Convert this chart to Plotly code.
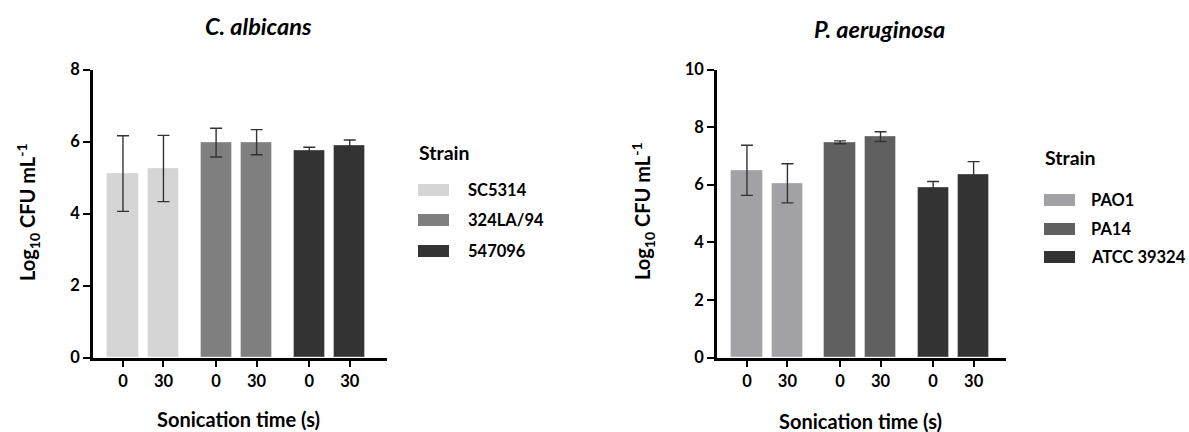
import plotly.graph_objects as go

W, H = 1189, 432

# ---------------- data ----------------
times = ["0", "30"]

ca_title = "C. albicans"
ca_strains = ["SC5314", "324LA/94", "547096"]
ca_colors = ["#d5d5d5", "#7f7f7f", "#333333"]
ca_means = [[5.11, 5.25], [5.97, 5.98], [5.75, 5.90]]
ca_sd = [[1.05, 0.92], [0.40, 0.35], [0.09, 0.14]]

pa_title = "P. aeruginosa"
pa_strains = ["PAO1", "PA14", "ATCC 39324"]
pa_colors = ["#a2a2a6", "#606060", "#333333"]
pa_means = [[6.50, 6.05], [7.47, 7.67], [5.91, 6.37]]
pa_sd = [[0.87, 0.68], [0.05, 0.17], [0.20, 0.43]]

ca_yticks = [0, 2, 4, 6, 8]
pa_yticks = [0, 2, 4, 6, 8, 10]

GROUP_STEP = 2.3
FONT = "Lato"


def px(x):
    return x / W


def py(y):
    return 1 - y / H


fig = go.Figure()


def add_panel(means, sds, colors, strains, xa, ya):
    tickvals, ticktext = [], []
    for g, (m, s, c, name) in enumerate(zip(means, sds, colors, strains)):
        xs = [g * GROUP_STEP + i for i in range(len(times))]
        tickvals += xs
        ticktext += times
        fig.add_trace(go.Bar(
            x=xs, y=m, name=name, width=0.77,
            marker=dict(color=c, line=dict(color="rgba(255,255,255,0.35)", width=1)),
            error_y=dict(type="data", array=s, visible=True, color="#333333",
                         thickness=1.4, width=6),
            xaxis=xa, yaxis=ya, showlegend=False,
        ))
    return tickvals, ticktext


tv1, tt1 = add_panel(ca_means, ca_sd, ca_colors, ca_strains, "x", "y")
tv2, tt2 = add_panel(pa_means, pa_sd, pa_colors, pa_strains, "x2", "y2")

ydom = [py(357.5), py(69.5)]
axis_common = dict(showline=True, linecolor="black", linewidth=2.6, ticks="outside",
                   ticklen=7, tickwidth=2.4, tickcolor="black", showgrid=False,
                   zeroline=False, automargin=False,
                   tickfont=dict(family=FONT, size=16.5, color="black", weight="bold"))

fig.update_layout(
    width=W, height=H, margin=dict(l=0, r=0, t=0, b=0, pad=0), autosize=False,
    plot_bgcolor="white", paper_bgcolor="white", bargap=0, showlegend=False,
    xaxis=dict(domain=[px(93), px(387)], range=[-0.74, 6.52], tickvals=tv1, ticktext=tt1,
               anchor="y", **axis_common),
    yaxis=dict(domain=ydom, range=[0, 8], tickvals=ca_yticks, anchor="x", **axis_common),
    xaxis2=dict(domain=[px(717), px(1006)], range=[-0.74, 6.4], tickvals=tv2, ticktext=tt2,
                anchor="y2", **axis_common),
    yaxis2=dict(domain=ydom, range=[0, 10], tickvals=pa_yticks, anchor="x2", **axis_common),
)

ann = []


def text(x, y, t, size, xanchor="center", angle=0):
    ann.append(dict(x=px(x), y=py(y), text=t, textangle=angle, showarrow=False,
                    xanchor=xanchor, yanchor="middle", xref="paper", yref="paper",
                    font=dict(family=FONT, size=size, color="black")))


ylab = "<b>Log<sub>10</sub> CFU mL<sup>-1</sup></b>"
text(28, 212, ylab, 20, angle=-90)
text(643, 211, ylab, 20, angle=-90)
text(238, 419, "<b>Sonication time (s)</b>", 20)
text(860, 421, "<b>Sonication time (s)</b>", 20)
text(258, 26, "<b><i>" + ca_title + "</i></b>", 23.5)
text(879, 29, "<b><i>" + pa_title + "</i></b>", 23.5)

shapes = []


def add_legend(x0, ytitle, ys, strains, colors, xlabel):
    text(x0, ytitle, "<b>Strain</b>", 19.5, xanchor="left")
    for yc, name, c in zip(ys, strains, colors):
        shapes.append(dict(type="rect", xref="paper", yref="paper",
                           x0=px(x0 + 1), x1=px(x0 + 32), y0=py(yc - 6), y1=py(yc + 6),
                           fillcolor=c, line=dict(width=0)))
        text(xlabel, yc, "<b>" + name + "</b>", 16.5, xanchor="left")


add_legend(417, 152, [190, 220, 251], ca_strains, ca_colors, 466)
add_legend(1043, 158, [200, 229, 257], pa_strains, pa_colors, 1089)

fig.update_layout(annotations=ann, shapes=shapes)
fig.write_html("out.html", config={"displayModeBar": False},
               post_script="document.body.style.margin='0px';")
